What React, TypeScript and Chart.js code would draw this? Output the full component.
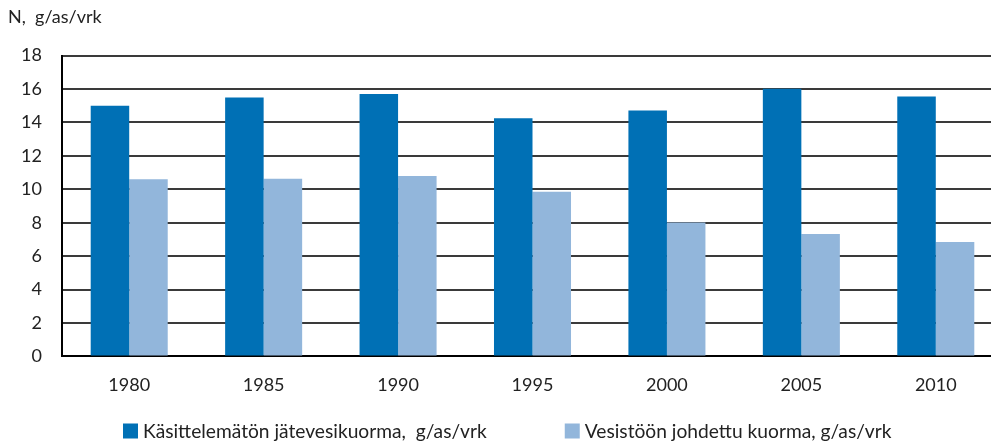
import React, { useEffect, useRef } from "react";
import { Chart, registerables } from "chart.js";

Chart.register(...registerables);

const categories = ["1980", "1985", "1990", "1995", "2000", "2005", "2010"];
const untreatedLoad = [15.0, 15.5, 15.7, 14.25, 14.72, 16.02, 15.55];
const dischargedLoad = [10.6, 10.63, 10.8, 9.85, 8.02, 7.33, 6.85];
const seriesLabels = [
  "Käsittelemätön jätevesikuorma,  g/as/vrk",
  "Vesistöön johdettu kuorma, g/as/vrk",
];
const seriesColors = ["#0070b5", "#92b6db"];
const yAxisTitle = "N,  g/as/vrk";

const FONT = "Lato, 'Open Sans', sans-serif";

const bottomLegend = {
  id: "bottomLegend",
  afterDraw(chart: any) {
    const ctx = chart.ctx;
    const area = chart.chartArea;
    const datasets = chart.data.datasets;
    ctx.save();
    ctx.font = `19.2px ${FONT}`;
    ctx.textBaseline = "middle";
    ctx.textAlign = "left";
    const y = 431;
    let x = area.left + 61;
    datasets.forEach((ds: any) => {
      ctx.fillStyle = ds.backgroundColor;
      ctx.fillRect(x, y - 7.5, 15, 15);
      x += 20;
      ctx.fillStyle = "#222";
      ctx.fillText(ds.label, x, y + 1);
      x += ctx.measureText(ds.label).width + 78;
    });
    ctx.restore();
  },
};

export default function App() {
  const canvasRef = useRef<HTMLCanvasElement | null>(null);

  useEffect(() => {
    if (!canvasRef.current) return;
    const chart = new Chart(canvasRef.current, {
      type: "bar",
      data: {
        labels: categories,
        datasets: [
          {
            label: seriesLabels[0],
            data: untreatedLoad,
            backgroundColor: seriesColors[0],
            borderWidth: 0,
            categoryPercentage: 0.573,
            barPercentage: 1.0,
          },
          {
            label: seriesLabels[1],
            data: dischargedLoad,
            backgroundColor: seriesColors[1],
            borderWidth: 0,
            categoryPercentage: 0.573,
            barPercentage: 1.0,
          },
        ],
      },
      plugins: [bottomLegend],
      options: {
        animation: false,
        responsive: true,
        maintainAspectRatio: false,
        layout: { padding: { left: 8, top: 6, right: 0, bottom: 29 } },
        plugins: {
          title: {
            display: true,
            text: yAxisTitle,
            align: "start",
            color: "#222",
            font: { family: FONT, size: 18, weight: "normal" },
            padding: { top: 0, bottom: 28 },
          },
          legend: { display: false },
          tooltip: { enabled: false },
        },
        scales: {
          x: {
            grid: { display: false, drawTicks: false },
            border: { color: "#000", width: 2 },
            ticks: {
              color: "#222",
              font: { family: FONT, size: 18 },
              padding: 18,
            },
          },
          y: {
            min: 0,
            max: 18,
            afterFit(scale: any) {
              scale.width = 54;
            },
            ticks: {
              stepSize: 2,
              autoSkip: false,
              color: "#222",
              font: { family: FONT, size: 18 },
              padding: 20,
            },
            grid: { color: "#3a3a3a", lineWidth: 2, drawTicks: false },
            border: { color: "#000", width: 2 },
          },
        },
      },
    });
    return () => chart.destroy();
  }, []);

  return (
    <div
      style={{
        position: "fixed",
        left: 0,
        top: 0,
        width: 991,
        height: 443,
        overflow: "hidden",
        background: "#fff",
      }}
    >
      <div style={{ position: "relative", width: 1003, height: 443 }}>
        <canvas ref={canvasRef} />
      </div>
    </div>
  );
}
